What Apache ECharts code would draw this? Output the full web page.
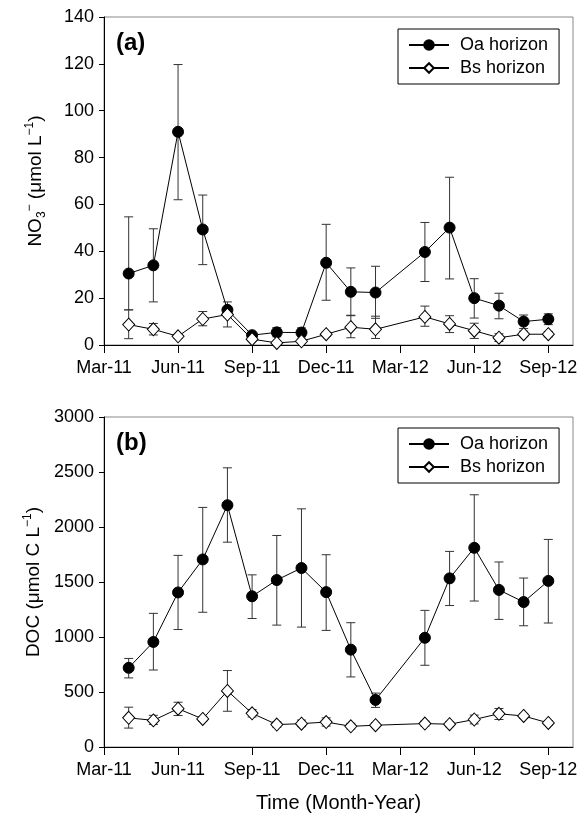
<!DOCTYPE html>
<html>
<head>
<meta charset="utf-8">
<script src="https://cdn.jsdelivr.net/npm/echarts@6/dist/echarts.min.js"></script>
<style>
  html, body { margin: 0; padding: 0; background: #fff; }
  #chart { width: 583px; height: 815px; }
</style>
</head>
<body>
<div id="chart"></div>
<script>
// month index, 0 = Mar-11
var tickLabels = ['Mar-11', 'Jun-11', 'Sep-11', 'Dec-11', 'Mar-12', 'Jun-12', 'Sep-12'];
var monthIdx = [1, 2, 3, 4, 5, 6, 7, 8, 9, 10, 11, 13, 14, 15, 16, 17, 18];

// (a) NO3-
var no3Oa   = [30.5, 34, 91, 49.3, 15, 4.2, 5.4, 5.3, 35.1, 22.7, 22.4, 39.7, 50.1, 20, 16.8, 10, 11];
var no3OaHi = [54.7, 49.6, 119.7, 64, 18.4, 5.2, 7.4, 7.3, 51.5, 32.9, 33.6, 52.3, 71.6, 28.3, 22.1, 12.8, 13.3];
var no3OaLo = [15, 18.4, 62, 34.3, 12, 3.2, 3.5, 3.5, 19.1, 12.5, 11.4, 27.1, 28.2, 11.5, 11.2, 7, 8.7];
var no3Bs   = [8.7, 6.7, 3.7, 11.1, 13, 2.5, 0.9, 1.6, 4.6, 7.6, 6.7, 12, 9, 6.1, 3.1, 4.6, 4.6];
var no3BsHi = [15, 9.2, 4.5, 14.3, 16, 3.2, 1.5, 2.5, 5.5, 12.7, 12.3, 16.6, 12.5, 9.3, 4.8, 5.9, 5.8];
var no3BsLo = [2.7, 4.3, 2.8, 8.2, 7.7, 1.8, 0.4, 0.9, 3.6, 3.1, 2.8, 8, 5.3, 2.8, 1.5, 3.6, 3.5];

// (b) DOC
var docOa   = [720, 955, 1405, 1705, 2198, 1370, 1518, 1627, 1408, 885, 428, 993, 1533, 1811, 1428, 1318, 1510];
var docOaHi = [805, 1215, 1742, 2178, 2538, 1565, 1923, 2165, 1748, 1130, 490, 1242, 1778, 2293, 1682, 1536, 1887];
var docOaLo = [628, 700, 1068, 1225, 1862, 1168, 1108, 1090, 1060, 637, 360, 743, 1286, 1327, 1160, 1102, 1127];
var docBs   = [265, 242, 348, 255, 510, 306, 204, 212, 227, 188, 198, 213, 207, 250, 302, 282, 219];
var docBsHi = [362, 288, 407, 275, 695, 340, 230, 245, 265, 215, 220, 235, 230, 290, 350, 305, 240];
var docBsLo = [172, 205, 286, 235, 325, 273, 180, 185, 190, 165, 178, 190, 185, 210, 250, 260, 200];

var FONT = '"Liberation Sans", Arial, sans-serif';

function pts(ys) {
    return monthIdx.map(function (m, i) { return [m, ys[i]]; });
}
function bars(lo, hi) {
    return monthIdx.map(function (m, i) { return [m, lo[i], hi[i]]; });
}

// error bar with caps
function renderErr(params, api) {
    var top = api.coord([api.value(0), api.value(2)]);
    var bot = api.coord([api.value(0), api.value(1)]);
    var w = 4.5;
    var st = { stroke: '#333', lineWidth: 1 };
    return {
        type: 'group',
        children: [
            { type: 'line', shape: { x1: top[0], y1: top[1], x2: bot[0], y2: bot[1] }, style: st },
            { type: 'line', shape: { x1: top[0] - w, y1: top[1], x2: top[0] + w, y2: top[1] }, style: st },
            { type: 'line', shape: { x1: bot[0] - w, y1: bot[1], x2: bot[0] + w, y2: bot[1] }, style: st }
        ]
    };
}

function xAxisFor(gi, withName) {
    var ax = {
        type: 'value', gridIndex: gi, min: 0, max: 19, interval: 3,
        axisLine: { lineStyle: { color: '#000', width: 1 } },
        axisTick: { length: 8, lineStyle: { color: '#000' } },
        axisLabel: {
            color: '#000', fontSize: 18, fontFamily: FONT, margin: 14,
            showMaxLabel: false,
            formatter: function (v) { return v % 3 === 0 ? (tickLabels[v / 3] || '') : ''; }
        },
        splitLine: { show: false }
    };
    if (withName) {
        ax.name = 'Time (Month-Year)';
        ax.nameLocation = 'middle';
        ax.nameGap = 46;
        ax.nameTextStyle = { color: '#000', fontSize: 20, fontFamily: FONT };
    }
    return ax;
}

function yAxisFor(gi, max, interval, name) {
    return {
        type: 'value', gridIndex: gi, min: 0, max: max, interval: interval,
        axisLine: { show: true, lineStyle: { color: '#000', width: 1 } },
        axisTick: { show: true, length: 5, lineStyle: { color: '#000' } },
        axisLabel: {
            color: '#000', fontSize: 18, fontFamily: FONT, margin: 10,
            formatter: function (v) { return String(v); }
        },
        splitLine: { show: false },
        name: name,
        nameLocation: 'middle',
        nameGap: 56,
        nameTextStyle: {
            color: '#000', fontSize: 19, fontFamily: FONT,
            rich: {
                t: { fontSize: 19, fontFamily: FONT, color: '#000', lineHeight: 24 },
                sub: { fontSize: 12, fontFamily: FONT, color: '#000', verticalAlign: 'bottom', lineHeight: 24 },
                sup: { fontSize: 12, fontFamily: FONT, color: '#000', verticalAlign: 'top', lineHeight: 16 }
            }
        }
    };
}

function legendFor(top) {
    return {
        left: 398, top: top, orient: 'vertical',
        data: ['Oa horizon', 'Bs horizon'],
        borderColor: '#000', borderWidth: 1, borderRadius: 0,
        padding: [7, 11, 7, 10],
        itemWidth: 40, itemHeight: 12, itemGap: 5,
        selectedMode: false,
        textStyle: { color: '#000', fontSize: 18, fontFamily: FONT, padding: [0, 0, 0, 6] }
    };
}

function lineSeries(name, gi, ys, filled) {
    return {
        name: name, type: 'line', xAxisIndex: gi, yAxisIndex: gi,
        data: pts(ys),
        symbol: filled ? 'circle' : 'diamond',
        symbolSize: filled ? 11 : [12, 13],
        lineStyle: { color: '#000', width: 1 },
        itemStyle: { color: filled ? '#000' : '#fff', borderColor: '#000', borderWidth: 1 },
        z: 5,
        animation: false
    };
}

function errSeries(gi, lo, hi) {
    return {
        type: 'custom', xAxisIndex: gi, yAxisIndex: gi,
        data: bars(lo, hi),
        encode: { x: 0, y: [1, 2] },
        renderItem: renderErr,
        z: 2,
        silent: true,
        animation: false
    };
}

var chart = echarts.init(document.getElementById('chart'), null, { renderer: 'canvas' });

chart.setOption({
    backgroundColor: '#fff',
    animation: false,
    grid: [
        { left: 104, right: 10, top: 17, height: 328, show: true, borderColor: '#888', borderWidth: 1, backgroundColor: 'transparent' },
        { left: 104, right: 10, top: 417, height: 330, show: true, borderColor: '#888', borderWidth: 1, backgroundColor: 'transparent' }
    ],
    xAxis: [xAxisFor(0, false), xAxisFor(1, true)],
    yAxis: [
        yAxisFor(0, 140, 20, '{t|NO}{sub|3}{sup|−}{t| (μmol L}{sup|−1}{t|)}'),
        yAxisFor(1, 3000, 500, '{t|DOC (μmol C L}{sup|−1}{t|)}')
    ],
    legend: [legendFor(29), legendFor(428)],
    graphic: [
        { type: 'text', left: 116, top: 31, style: { text: '(a)', font: 'bold 24px ' + FONT, fill: '#000' } },
        { type: 'text', left: 116, top: 431, style: { text: '(b)', font: 'bold 24px ' + FONT, fill: '#000' } }
    ],
    series: [
        errSeries(0, no3OaLo, no3OaHi),
        errSeries(0, no3BsLo, no3BsHi),
        lineSeries('Oa horizon', 0, no3Oa, true),
        lineSeries('Bs horizon', 0, no3Bs, false),
        errSeries(1, docOaLo, docOaHi),
        errSeries(1, docBsLo, docBsHi),
        lineSeries('Oa horizon', 1, docOa, true),
        lineSeries('Bs horizon', 1, docBs, false)
    ]
});
</script>
</body>
</html>
